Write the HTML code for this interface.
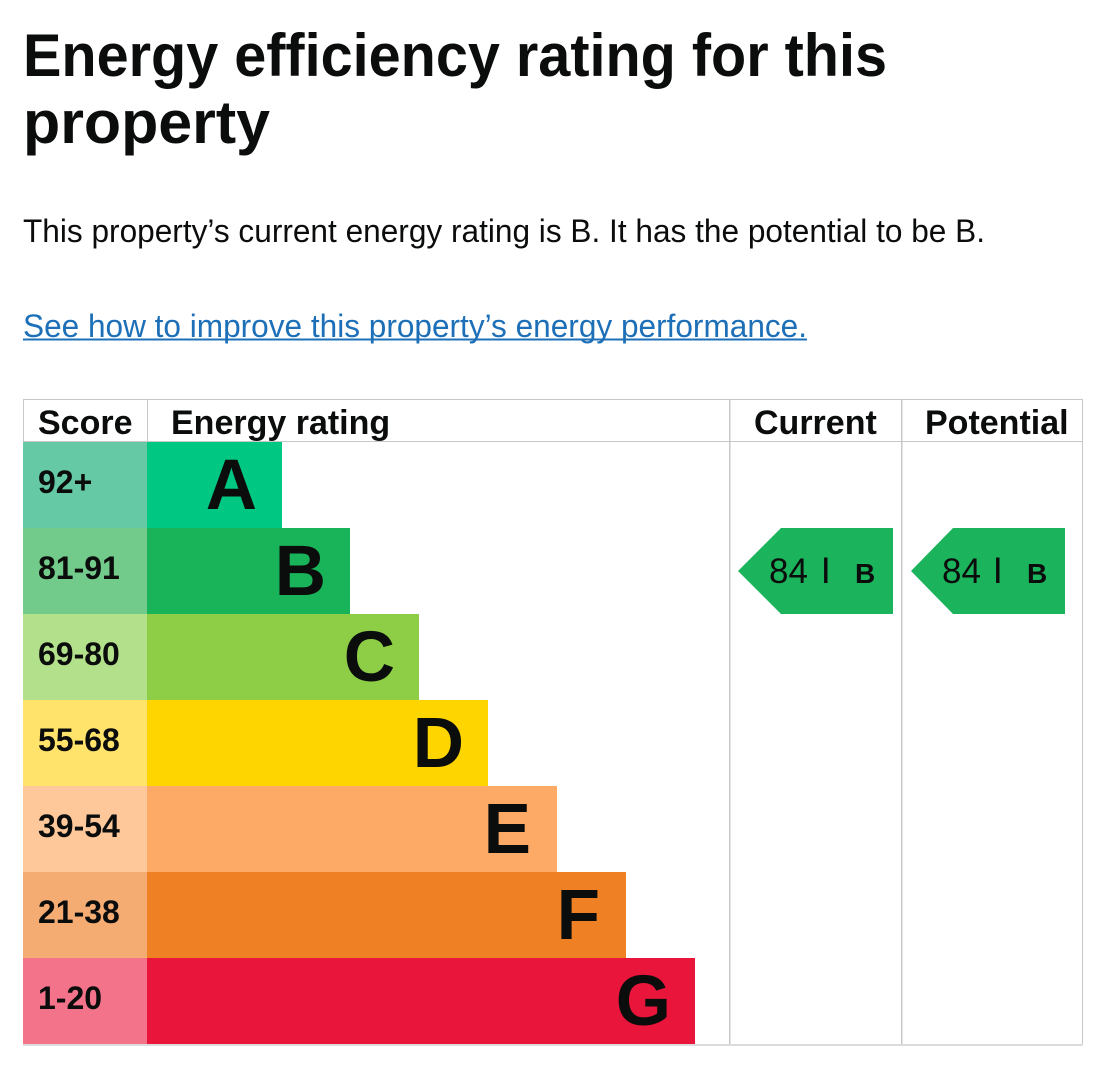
<!DOCTYPE html>
<html><head><meta charset="utf-8"><style>html,body{margin:0;padding:0;background:#fff}svg{display:block}</style></head>
<body>
<svg width="1114" height="1080" viewBox="0 0 1114 1080" xmlns="http://www.w3.org/2000/svg" font-family="'Liberation Sans', Arial, sans-serif">
<rect width="1114" height="1080" fill="#fff"/>
<text x="23" y="76" font-size="60" font-weight="bold" fill="#0b0c0c" textLength="864" lengthAdjust="spacingAndGlyphs">Energy efficiency rating for this</text>
<text x="23" y="143" font-size="60" font-weight="bold" fill="#0b0c0c" textLength="247" lengthAdjust="spacingAndGlyphs">property</text>
<text x="23" y="242" font-size="32" fill="#0b0c0c" textLength="962" lengthAdjust="spacingAndGlyphs">This property’s current energy rating is B. It has the potential to be B.</text>
<text x="23" y="337" font-size="32" fill="#1d70b8" textLength="784" lengthAdjust="spacingAndGlyphs">See how to improve this property’s energy performance.</text>
<rect x="23" y="338.5" width="784" height="2" fill="#1d70b8"/>

<!-- score column -->
<rect x="23" y="442" width="124" height="86" fill="#64c9a4"/>
<rect x="23" y="528" width="124" height="86" fill="#73cb8b"/>
<rect x="23" y="614" width="124" height="86" fill="#b3e08a"/>
<rect x="23" y="700" width="124" height="86" fill="#ffe36a"/>
<rect x="23" y="786" width="124" height="86" fill="#fec89b"/>
<rect x="23" y="872" width="124" height="86" fill="#f4ac72"/>
<rect x="23" y="958" width="124" height="86" fill="#f2738a"/>

<!-- bars -->
<rect x="147" y="442" width="135" height="86" fill="#00c781"/>
<rect x="147" y="528" width="203" height="86" fill="#19b459"/>
<rect x="147" y="614" width="272" height="86" fill="#8dce46"/>
<rect x="147" y="700" width="341" height="86" fill="#ffd500"/>
<rect x="147" y="786" width="410" height="86" fill="#fcaa65"/>
<rect x="147" y="872" width="479" height="86" fill="#ef8023"/>
<rect x="147" y="958" width="548" height="86" fill="#e9153b"/>

<!-- table lines -->
<g fill="#c8c8c8">
<rect x="23" y="399" width="1060" height="1"/>
<rect x="23" y="441" width="1060" height="1"/>
<rect x="23" y="399" width="1" height="43"/>
<rect x="147" y="399" width="1" height="43"/>
<rect x="729" y="399" width="1.5" height="646"/>
<rect x="901" y="399" width="1.5" height="646"/>
<rect x="1082" y="399" width="1" height="646"/>
</g>
<rect x="23" y="1044" width="1060" height="2" fill="#dcdcdc"/>

<!-- header -->
<g font-size="34" font-weight="bold" fill="#0b0c0c">
<text x="38" y="434">Score</text>
<text x="171" y="434">Energy rating</text>
<text x="754" y="434">Current</text>
<text x="925" y="434">Potential</text>
</g>

<!-- score labels -->
<g font-size="32" font-weight="bold" fill="#0b0c0c">
<text x="38" y="493">92+</text>
<text x="38" y="579">81-91</text>
<text x="38" y="665">69-80</text>
<text x="38" y="751">55-68</text>
<text x="38" y="837">39-54</text>
<text x="38" y="923">21-38</text>
<text x="38" y="1009">1-20</text>
</g>

<!-- letters -->
<g font-size="71" font-weight="bold" fill="#0b0c0c" text-anchor="end">
<text x="257" y="509">A</text>
<text x="326" y="595">B</text>
<text x="395" y="681">C</text>
<text x="464" y="767">D</text>
<text x="531" y="853">E</text>
<text x="600" y="939">F</text>
<text x="671" y="1025">G</text>
</g>

<!-- arrows -->
<polygon points="738,571 781,528 893,528 893,614 781,614" fill="#1bb35c"/>
<polygon points="911,571 953,528 1065,528 1065,614 953,614" fill="#1bb35c"/>
<g fill="#0b0c0c">
<text x="769" y="583" font-size="35">84</text>
<text x="822" y="577" font-size="27" font-weight="bold">|</text>
<text x="855" y="583" font-size="28" font-weight="bold">B</text>
<text x="942" y="583" font-size="35">84</text>
<text x="994" y="577" font-size="27" font-weight="bold">|</text>
<text x="1027" y="583" font-size="28" font-weight="bold">B</text>
</g>
</svg>
</body></html>
